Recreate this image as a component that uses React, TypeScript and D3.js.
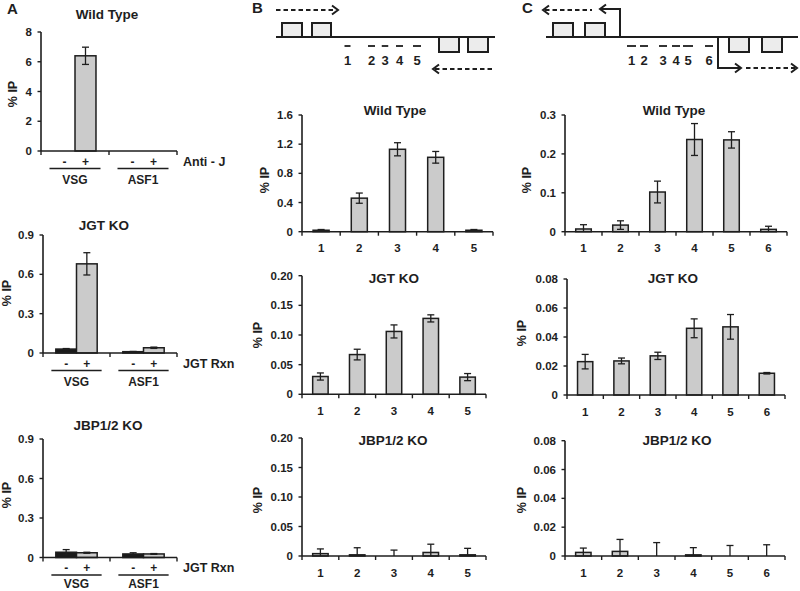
import React from 'react';
import * as d3 from 'd3';

const FONT = '"Liberation Sans", Arial, Helvetica, sans-serif';
const INK = '#1e1e1e';
const GRAY = '#cbcbcb';
const DARK = '#1a1a1a';

// ---------- Panel A data ----------
const groupsA = ['VSG', 'ASF1'];
const treatA = ['-', '+'];
const aWTValues = [0, 6.4, 0.01, 0.02];
const aWTErrors = [0, 0.58, 0, 0];
const aJGTValues = [0.03, 0.68, 0.01, 0.04];
const aJGTErrors = [0.004, 0.085, 0.002, 0.005];
const aJBPValues = [0.04, 0.036, 0.027, 0.027];
const aJBPErrors = [0.02, 0.004, 0.009, 0.003];
const aWTTicks = [0, 2, 4, 6, 8];
const aKOTicks = [0, 0.3, 0.6, 0.9];

// ---------- Panel B data ----------
const bCats = ['1', '2', '3', '4', '5'];
const bWTValues = [0.02, 0.46, 1.13, 1.02, 0.02];
const bWTErrors = [0.01, 0.07, 0.09, 0.08, 0.01];
const bJGTValues = [0.03, 0.067, 0.106, 0.128, 0.029];
const bJGTErrors = [0.006, 0.009, 0.011, 0.006, 0.006];
const bJBPValues = [0.004, 0.002, 0, 0.006, 0.002];
const bJBPErrors = [0.008, 0.012, 0.01, 0.014, 0.011];
const bWTTicks = [0, 0.4, 0.8, 1.2, 1.6];
const bKOTicks = [0, 0.05, 0.1, 0.15, 0.2];

// ---------- Panel C data ----------
const cCats = ['1', '2', '3', '4', '5', '6'];
const cWTValues = [0.007, 0.017, 0.102, 0.237, 0.236, 0.006];
const cWTErrors = [0.011, 0.011, 0.028, 0.041, 0.021, 0.008];
const cJGTValues = [0.023, 0.0235, 0.027, 0.046, 0.047, 0.015];
const cJGTErrors = [0.005, 0.002, 0.0025, 0.0065, 0.0085, 0.0005];
const cJBPValues = [0.0025, 0.0032, 0, 0.0008, 0, 0];
const cJBPErrors = [0.003, 0.0083, 0.0093, 0.005, 0.0073, 0.0078];
const cWTTicks = [0, 0.1, 0.2, 0.3];
const cKOTicks = [0, 0.02, 0.04, 0.06, 0.08];

const fmt = (dec: number) => (v: number) => (v === 0 ? '0' : v.toFixed(dec));

function YAxis({ frame, y, ticks, dec }: any) {
  return (
    <g>
      <line x1={frame.x0} x2={frame.x0} y1={frame.yTop} y2={frame.yBase} stroke={INK} strokeWidth={1.6} />
      {ticks.map((t: number) => (
        <g key={t}>
          <line x1={frame.x0 - 3.5} x2={frame.x0} y1={y(t)} y2={y(t)} stroke={INK} strokeWidth={1.4} />
          <text x={frame.x0 - 9} y={y(t)} dy="0.36em" textAnchor="end" fontSize={11.5} fontWeight="bold" fill={INK} fontFamily={FONT}>
            {fmt(dec)(t)}
          </text>
        </g>
      ))}
    </g>
  );
}

function ErrorBar({ cx, v, e, y }: any) {
  if (!e) return null;
  const lo = Math.max(0, v - e);
  const hi = v + e;
  return (
    <g stroke={INK} strokeWidth={1.3}>
      <line x1={cx} x2={cx} y1={y(lo)} y2={y(hi)} />
      <line x1={cx - 3.5} x2={cx + 3.5} y1={y(hi)} y2={y(hi)} />
      {v - e > 0 && <line x1={cx - 3.5} x2={cx + 3.5} y1={y(lo)} y2={y(lo)} />}
    </g>
  );
}

function Labels({ title, tx, ty, lx, ly }: any) {
  return (
    <g fontFamily={FONT} fontWeight="bold" fill={INK}>
      <text x={tx} y={ty} textAnchor="middle" fontSize={13.5}>{title}</text>
      <text transform={`translate(${lx},${ly}) rotate(-90)`} textAnchor="middle" dominantBaseline="central" fontSize={12.5}>% IP</text>
    </g>
  );
}

function BarPanel({ frame, max, ticks, dec, cats, values, errors, title, tx, ty, lx, ly }: any) {
  const y = d3.scaleLinear().domain([0, max]).range([frame.yBase, frame.yTop]);
  const x = d3.scaleBand().domain(cats).range([frame.x0, frame.x1]).paddingInner(0.58).paddingOuter(0.29);
  const step = x.step();
  const bw = x.bandwidth();
  return (
    <g>
      <Labels title={title} tx={tx} ty={ty} lx={lx} ly={ly} />
      {cats.map((c: string, i: number) => {
        const h = frame.yBase - y(values[i]);
        return h > 0 ? (
          <rect key={c} x={x(c)} y={y(values[i])} width={bw} height={h} fill={GRAY} stroke={INK} strokeWidth={1.5} />
        ) : null;
      })}
      {cats.map((c: string, i: number) => (
        <ErrorBar key={c} cx={(x(c) as number) + bw / 2} v={values[i]} e={errors[i]} y={y} />
      ))}
      <YAxis frame={frame} y={y} ticks={ticks} dec={dec} />
      <line x1={frame.x0} x2={frame.x1} y1={frame.yBase} y2={frame.yBase} stroke={INK} strokeWidth={1.6} />
      {d3.range(cats.length + 1).map((i) => (
        <line key={i} x1={frame.x0 + i * step} x2={frame.x0 + i * step} y1={frame.yBase} y2={frame.yBase + 4} stroke={INK} strokeWidth={1.4} />
      ))}
      {cats.map((c: string) => (
        <text key={c} x={(x(c) as number) + bw / 2} y={frame.yBase + 20.5} textAnchor="middle" fontSize={11.5} fontWeight="bold" fill={INK} fontFamily={FONT}>
          {c}
        </text>
      ))}
    </g>
  );
}

function GroupPanel({ frame, max, ticks, dec, values, errors, title, tx, ty, lx, ly, rxn }: any) {
  const y = d3.scaleLinear().domain([0, max]).range([frame.yBase, frame.yTop]);
  const outer = d3.scaleBand().domain(groupsA).range([frame.x0, frame.x1]);
  const inner = d3.scaleBand().domain(treatA).range([0, outer.bandwidth()]).paddingInner(0).paddingOuter(0.62);
  const bw = inner.bandwidth();
  const items = groupsA.flatMap((g, gi) => treatA.map((t, ti) => ({ g, t, v: values[gi * 2 + ti], e: errors[gi * 2 + ti] })));
  return (
    <g>
      <Labels title={title} tx={tx} ty={ty} lx={lx} ly={ly} />
      {items.map((d, i) => {
        const bx = (outer(d.g) as number) + (inner(d.t) as number);
        const h = frame.yBase - y(d.v);
        return h > 0.3 ? (
          <rect key={i} x={bx} y={y(d.v)} width={bw} height={h} fill={d.t === '-' ? DARK : GRAY} stroke={INK} strokeWidth={1.5} />
        ) : null;
      })}
      {items.map((d, i) => (
        <ErrorBar key={i} cx={(outer(d.g) as number) + (inner(d.t) as number) + bw / 2} v={d.v} e={d.e} y={y} />
      ))}
      <YAxis frame={frame} y={y} ticks={ticks} dec={dec} />
      <line x1={frame.x0} x2={frame.x1} y1={frame.yBase} y2={frame.yBase} stroke={INK} strokeWidth={1.6} />
      {d3.range(groupsA.length + 1).map((i) => (
        <line key={i} x1={frame.x0 + i * outer.step()} x2={frame.x0 + i * outer.step()} y1={frame.yBase} y2={frame.yBase + 4} stroke={INK} strokeWidth={1.4} />
      ))}
      <g fontFamily={FONT} fontWeight="bold" fill={INK}>
        {items.map((d, i) => (
          <text key={i} x={(outer(d.g) as number) + (inner(d.t) as number) + bw / 2} y={frame.yBase + 10.5} textAnchor="middle" dominantBaseline="central" fontSize={12}>
            {d.t}
          </text>
        ))}
        {groupsA.map((g) => {
          const c = (outer(g) as number) + outer.bandwidth() / 2;
          const hw = outer.bandwidth() * 0.375;
          return (
            <g key={g}>
              <line x1={c - hw} x2={c + hw} y1={frame.yBase + 17.5} y2={frame.yBase + 17.5} stroke={INK} strokeWidth={1.4} />
              <text x={c} y={Math.min(frame.yBase + 33, 588)} textAnchor="middle" fontSize={12}>{g}</text>
            </g>
          );
        })}
        <text x={frame.x1 + 6} y={frame.yBase + 10.5} dominantBaseline="central" fontSize={12.5}>{rxn}</text>
      </g>
    </g>
  );
}

function ArrowHead({ x, yy, dir }: any) {
  return <polyline points={`${x - 6 * dir},${yy - 4.5} ${x},${yy} ${x - 6 * dir},${yy + 4.5}`} fill="none" stroke={INK} strokeWidth={2} />;
}

function Box({ x, yy, w, h }: any) {
  return <rect x={x} y={yy} width={w} height={h} fill="#ececec" stroke={INK} strokeWidth={2} />;
}

// schematic primer labels
const bPrimers = ['1', '2', '3', '4', '5'];
const cPrimers = ['1', '2', '3', '4', '5', '6'];

function DiagramB() {
  const px = [347.5, 371.5, 385, 399.5, 417];
  const pw = [6, 7, 6.5, 7, 8];
  return (
    <g>
      <line x1={276} x2={336} y1={10} y2={10} stroke={INK} strokeWidth={2} strokeDasharray="4.5,3" />
      <ArrowHead x={338} yy={10} dir={1} />
      <line x1={276} x2={495} y1={37} y2={37} stroke={INK} strokeWidth={2} />
      <Box x={282} yy={23} w={20} h={14} />
      <Box x={312} yy={23} w={19} h={14} />
      <Box x={439} yy={37} w={20} h={15} />
      <Box x={468} yy={37} w={20} h={15} />
      {bPrimers.map((p, i) => (
        <g key={p}>
          <line x1={px[i] - pw[i] / 2} x2={px[i] + pw[i] / 2} y1={46} y2={46} stroke={INK} strokeWidth={1.8} />
          <text x={px[i]} y={60} dominantBaseline="central" textAnchor="middle" fontSize={13} fontWeight="bold" fontFamily={FONT} fill={INK}>{p}</text>
        </g>
      ))}
      <line x1={435} x2={495} y1={69} y2={69} stroke={INK} strokeWidth={2} strokeDasharray="4.5,3" />
      <ArrowHead x={433} yy={69} dir={-1} />
    </g>
  );
}

function DiagramC() {
  const px = [631.5, 644, 663, 676, 688, 709];
  const pw = [9, 8, 8, 8, 10, 8];
  return (
    <g>
      <line x1={546} x2={798} y1={37} y2={37} stroke={INK} strokeWidth={2} />
      <Box x={553} yy={23} w={20} h={14} />
      <Box x={585} yy={23} w={20} h={14} />
      <polyline points="620,37 620,9 601,9" fill="none" stroke={INK} strokeWidth={2} />
      <ArrowHead x={600} yy={9} dir={-1} />
      <line x1={545} x2={592} y1={10} y2={10} stroke={INK} strokeWidth={2} strokeDasharray="4.5,3" />
      <ArrowHead x={543} yy={10} dir={-1} />
      <Box x={729} yy={37} w={20} h={15} />
      <Box x={762} yy={37} w={20} h={15} />
      <polyline points="718,37 718,68 740,68" fill="none" stroke={INK} strokeWidth={2} />
      <ArrowHead x={741} yy={68} dir={1} />
      <line x1={746} x2={795} y1={68} y2={68} stroke={INK} strokeWidth={2} strokeDasharray="4.5,3" />
      <ArrowHead x={797} yy={68} dir={1} />
      {cPrimers.map((p, i) => (
        <g key={p}>
          <line x1={px[i] - pw[i] / 2} x2={px[i] + pw[i] / 2} y1={46} y2={46} stroke={INK} strokeWidth={1.8} />
          <text x={px[i]} y={60} dominantBaseline="central" textAnchor="middle" fontSize={13} fontWeight="bold" fontFamily={FONT} fill={INK}>{p}</text>
        </g>
      ))}
    </g>
  );
}

export default function App() {
  return (
    <svg width={800} height={591} style={{ position: 'absolute', left: 0, top: 0, background: '#fff' }}>
      <rect width={800} height={591} fill="#fff" />
      <g fontFamily={FONT} fontWeight="bold" fontSize={15} fill={INK}>
        <text x={7} y={14}>A</text>
        <text x={252} y={13}>B</text>
        <text x={522} y={13}>C</text>
      </g>

      <GroupPanel frame={{ x0: 41, x1: 177, yBase: 151, yTop: 32 }} max={8} ticks={aWTTicks} dec={0}
        values={aWTValues} errors={aWTErrors} title="Wild Type" tx={107} ty={18.5} lx={13} ly={94} rxn="Anti - J" />
      <GroupPanel frame={{ x0: 43, x1: 177, yBase: 353, yTop: 235 }} max={0.9} ticks={aKOTicks} dec={1}
        values={aJGTValues} errors={aJGTErrors} title="JGT KO" tx={104} ty={230} lx={7} ly={293} rxn="JGT Rxn" />
      <GroupPanel frame={{ x0: 43, x1: 177, yBase: 557.5, yTop: 439 }} max={0.9} ticks={aKOTicks} dec={1}
        values={aJBPValues} errors={aJBPErrors} title="JBP1/2 KO" tx={108} ty={430} lx={7} ly={495} rxn="JGT Rxn" />

      <DiagramB />
      <DiagramC />

      <BarPanel frame={{ x0: 302, x1: 493, yBase: 231.7, yTop: 115 }} max={1.6} ticks={bWTTicks} dec={1} cats={bCats}
        values={bWTValues} errors={bWTErrors} title="Wild Type" tx={395} ty={115} lx={265} ly={180} />
      <BarPanel frame={{ x0: 302, x1: 486, yBase: 394.3, yTop: 275.7 }} max={0.2} ticks={bKOTicks} dec={2} cats={bCats}
        values={bJGTValues} errors={bJGTErrors} title="JGT KO" tx={394} ty={283} lx={258} ly={335} />
      <BarPanel frame={{ x0: 302, x1: 486, yBase: 556, yTop: 438 }} max={0.2} ticks={bKOTicks} dec={2} cats={bCats}
        values={bJBPValues} errors={bJBPErrors} title="JBP1/2 KO" tx={393} ty={445} lx={258} ly={500} />

      <BarPanel frame={{ x0: 565, x1: 787, yBase: 231.7, yTop: 115 }} max={0.3} ticks={cWTTicks} dec={1} cats={cCats}
        values={cWTValues} errors={cWTErrors} title="Wild Type" tx={674} ty={114.5} lx={527} ly={180} />
      <BarPanel frame={{ x0: 567, x1: 785, yBase: 395, yTop: 279 }} max={0.08} ticks={cKOTicks} dec={2} cats={cCats}
        values={cJGTValues} errors={cJGTErrors} title="JGT KO" tx={673} ty={283} lx={522} ly={333} />
      <BarPanel frame={{ x0: 565, x1: 785, yBase: 556, yTop: 440.7 }} max={0.08} ticks={cKOTicks} dec={2} cats={cCats}
        values={cJBPValues} errors={cJBPErrors} title="JBP1/2 KO" tx={677} ty={445} lx={522} ly={500} />
    </svg>
  );
}
